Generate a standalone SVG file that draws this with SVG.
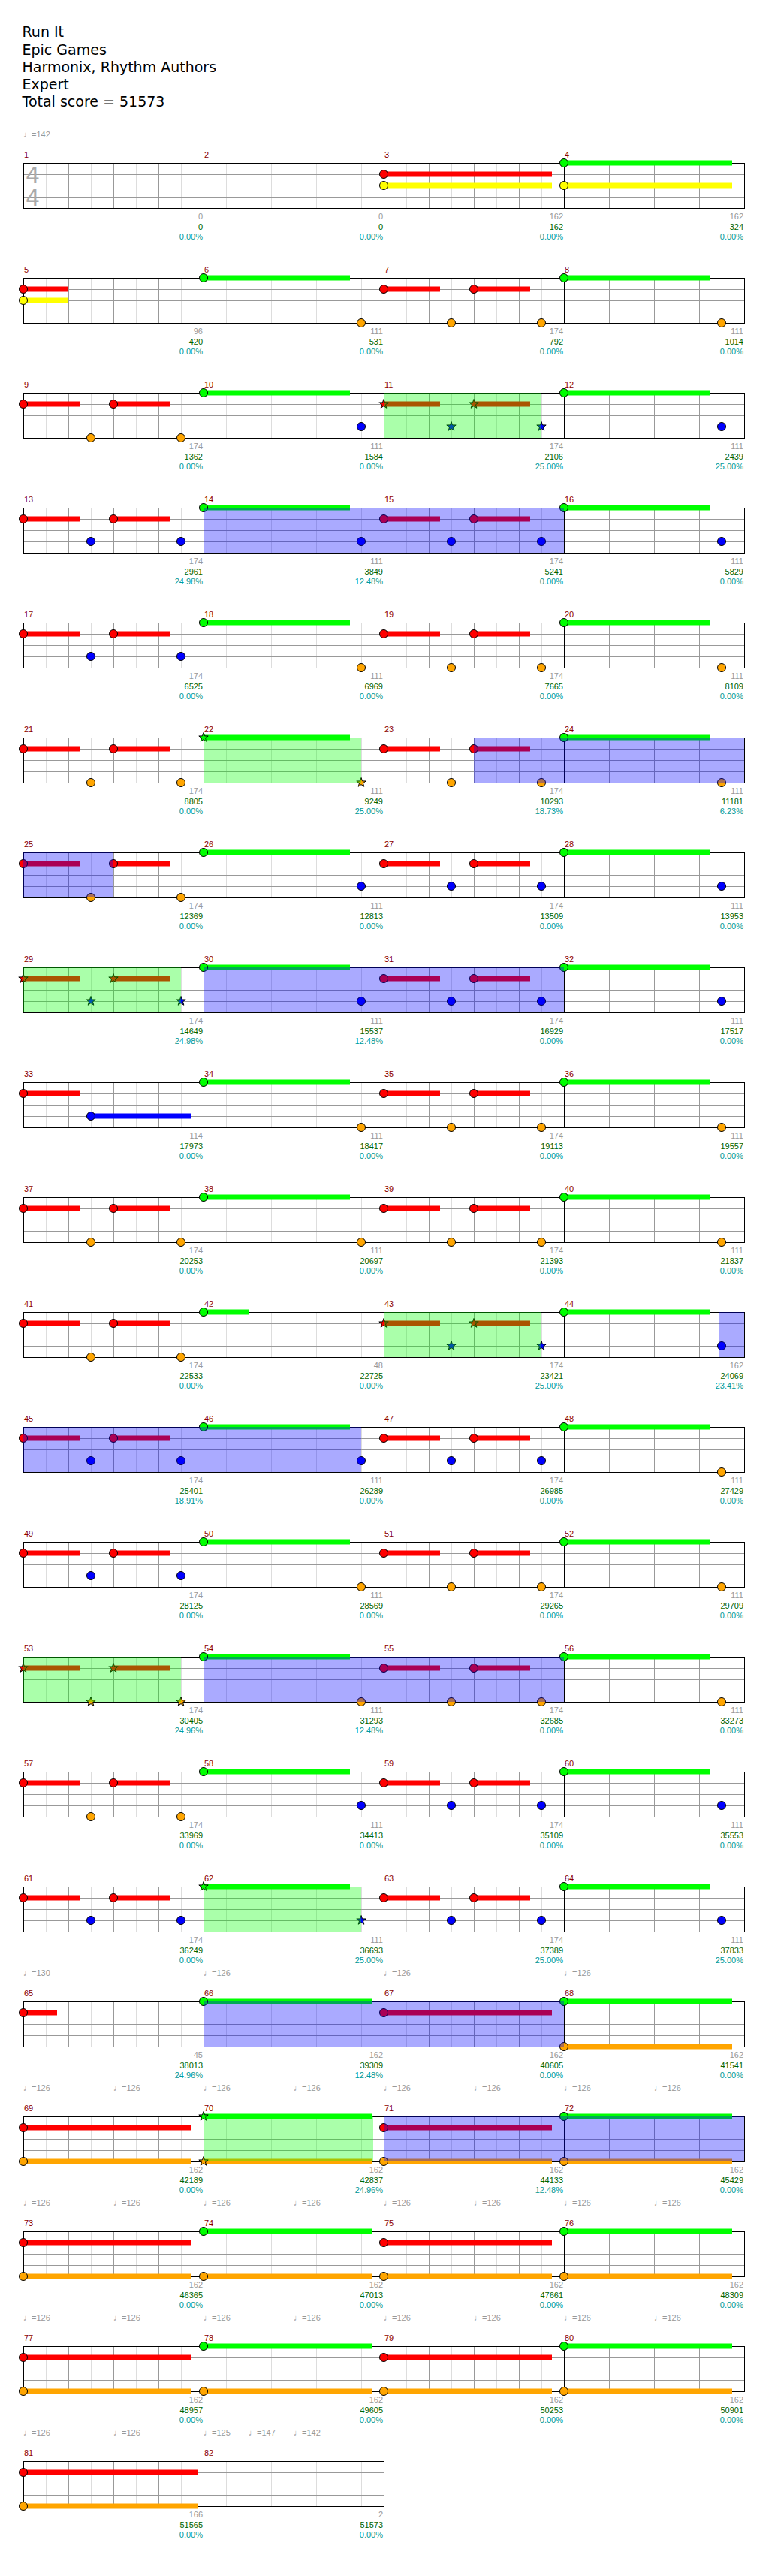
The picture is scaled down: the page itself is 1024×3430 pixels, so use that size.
<svg xmlns="http://www.w3.org/2000/svg" width="1024" height="3430" viewBox="0 0 1024 3430">
<defs>
<style>
.lt{stroke:#dddddd;stroke-width:1;fill:none}
.dk{stroke:#999999;stroke-width:1;fill:none}
.bk{stroke:#000000;stroke-width:1;fill:none}
text{font-family:"Liberation Sans",Arial,sans-serif}
.mn{font-size:11px;fill:#8b0000}
.s1{font-size:11px;fill:#999999;text-anchor:end}
.s2{font-size:11px;fill:#006400;text-anchor:end}
.s3{font-size:11px;fill:#009999;text-anchor:end}
.ttl{font-family:"DejaVu Sans",sans-serif;font-size:19px;fill:#000}
.tmp{font-size:11px;fill:#999999}
.ts{font-family:"DejaVu Sans",sans-serif;font-size:30px;fill:#aaaaaa}
.sp{fill:#00ff00;fill-opacity:0.333}
.act{fill:#0000ff;fill-opacity:0.333}
.bR{fill:#ff0000}.bG{fill:#00ff00}.bY{fill:#ffff00}.bB{fill:#0000ff}.bO{fill:#ffa500}
</style>
<g id="mg">
<path class="lt" d="M30 0V60M90 0V60M150 0V60M210 0V60"/>
<path class="dk" d="M60 0V60M120 0V60M180 0V60M0 15H240M0 30H240M0 45H240"/>
</g>
<g id="g4" shape-rendering="crispEdges">
<use href="#mg"/><use href="#mg" x="240"/><use href="#mg" x="480"/><use href="#mg" x="720"/>
<path class="bk" d="M240 0V60M480 0V60M720 0V60"/>
<rect class="bk" width="960" height="60"/>
</g>
<g id="g2" shape-rendering="crispEdges">
<use href="#mg"/><use href="#mg" x="240"/>
<path class="bk" d="M240 0V60"/>
<rect class="bk" width="480" height="60"/>
</g>
<circle id="cG" r="5.5" fill="#00ff00" stroke="#000"/>
<circle id="cR" r="5.5" fill="#ff0000" stroke="#000"/>
<circle id="cY" r="5.5" fill="#ffff00" stroke="#000"/>
<circle id="cB" r="5.5" fill="#0000ff" stroke="#000"/>
<circle id="cO" r="5.5" fill="#ffa500" stroke="#000"/>
<path id="st" d="M0-6.5L1.53-2.1L6.18-2.01L2.47 0.8L3.82 5.26L0 2.6L-3.82 5.26L-2.47 0.8L-6.18-2.01L-1.53-2.1Z" stroke="#000"/>
<g id="RO">
<rect class="bR" x="0" y="11.5" width="75" height="7"/><rect class="bR" x="120" y="11.5" width="75" height="7"/>
<use href="#cR" y="15"/><use href="#cR" x="120" y="15"/><use href="#cO" x="90" y="60"/><use href="#cO" x="210" y="60"/>
</g>
<g id="RB">
<rect class="bR" x="0" y="11.5" width="75" height="7"/><rect class="bR" x="120" y="11.5" width="75" height="7"/>
<use href="#cR" y="15"/><use href="#cR" x="120" y="15"/><use href="#cB" x="90" y="45"/><use href="#cB" x="210" y="45"/>
</g>
<g id="GO"><rect class="bG" y="-3.5" width="195" height="7"/><use href="#cG"/><use href="#cO" x="210" y="60"/></g>
<g id="GB"><rect class="bG" y="-3.5" width="195" height="7"/><use href="#cG"/><use href="#cB" x="210" y="45"/></g>
<g id="SRB">
<rect class="bR" x="0" y="11.5" width="75" height="7"/><rect class="bR" x="120" y="11.5" width="75" height="7"/>
<use href="#st" fill="#ff0000" y="15"/><use href="#st" fill="#ff0000" x="120" y="15"/><use href="#st" fill="#0000ff" x="90" y="45"/><use href="#st" fill="#0000ff" x="210" y="45"/>
</g>
<g id="SRO">
<rect class="bR" x="0" y="11.5" width="75" height="7"/><rect class="bR" x="120" y="11.5" width="75" height="7"/>
<use href="#st" fill="#ff0000" y="15"/><use href="#st" fill="#ff0000" x="120" y="15"/><use href="#st" fill="#ffa500" x="90" y="60"/><use href="#st" fill="#ffa500" x="210" y="60"/>
</g>
<g id="LRO"><rect class="bR" y="11.5" width="224" height="7"/><rect class="bO" y="56.5" width="224" height="7"/><use href="#cR" y="15"/><use href="#cO" y="60"/></g>
<g id="LGO"><rect class="bG" y="-3.5" width="224" height="7"/><rect class="bO" y="56.5" width="224" height="7"/><use href="#cG"/><use href="#cO" y="60"/></g>
<g id="t8">
<text class="tmp" x="0" y="-34">♩=126</text><text class="tmp" x="120" y="-34">♩=126</text><text class="tmp" x="240" y="-34">♩=126</text><text class="tmp" x="360" y="-34">♩=126</text>
<text class="tmp" x="480" y="-34">♩=126</text><text class="tmp" x="600" y="-34">♩=126</text><text class="tmp" x="720" y="-34">♩=126</text><text class="tmp" x="840" y="-34">♩=126</text>
</g>
</defs>
<rect width="1024" height="3430" fill="#ffffff"/>
<g id="header">
<text class="ttl" x="29.5" y="49">Run It</text>
<text class="ttl" x="29.5" y="72.5">Epic Games</text>
<text class="ttl" x="29.5" y="96">Harmonix, Rhythm Authors</text>
<text class="ttl" x="29.5" y="119">Expert</text>
<text class="ttl" x="29.5" y="142">Total score = 51573</text>
<text class="tmp" x="31" y="183">♩=142</text>
</g>

<g id="row1" transform="translate(31,217)">
<use href="#g4"/>
<g id="m1"><text class="ts" x="3" y="27">4</text><text class="ts" x="3" y="57">4</text><text class="mn" x="1" y="-7">1</text><text class="s1" x="239" y="75">0</text><text class="s2" x="239" y="88.5">0</text><text class="s3" x="239" y="102">0.00%</text></g>
<g id="m2" transform="translate(240,0)"><text class="mn" x="1" y="-7">2</text><text class="s1" x="239" y="75">0</text><text class="s2" x="239" y="88.5">0</text><text class="s3" x="239" y="102">0.00%</text></g>
<g id="m3" transform="translate(480,0)"><rect class="bR" y="11.5" width="224" height="7"/><rect class="bY" y="26.5" width="224" height="7"/><use href="#cR" y="15"/><use href="#cY" y="30"/><text class="mn" x="1" y="-7">3</text><text class="s1" x="239" y="75">162</text><text class="s2" x="239" y="88.5">162</text><text class="s3" x="239" y="102">0.00%</text></g>
<g id="m4" transform="translate(720,0)"><rect class="bG" y="-3.5" width="224" height="7"/><rect class="bY" y="26.5" width="224" height="7"/><use href="#cG"/><use href="#cY" y="30"/><text class="mn" x="1" y="-7">4</text><text class="s1" x="239" y="75">162</text><text class="s2" x="239" y="88.5">324</text><text class="s3" x="239" y="102">0.00%</text></g>
</g>

<g id="row2" transform="translate(31,370)">
<use href="#g4"/>
<g id="m5"><rect class="bR" y="11.5" width="60" height="7"/><rect class="bY" y="26.5" width="60" height="7"/><use href="#cR" y="15"/><use href="#cY" y="30"/><text class="mn" x="1" y="-7">5</text><text class="s1" x="239" y="75">96</text><text class="s2" x="239" y="88.5">420</text><text class="s3" x="239" y="102">0.00%</text></g>
<g id="m6" transform="translate(240,0)"><use href="#GO"/><text class="mn" x="1" y="-7">6</text><text class="s1" x="239" y="75">111</text><text class="s2" x="239" y="88.5">531</text><text class="s3" x="239" y="102">0.00%</text></g>
<g id="m7" transform="translate(480,0)"><use href="#RO"/><text class="mn" x="1" y="-7">7</text><text class="s1" x="239" y="75">174</text><text class="s2" x="239" y="88.5">792</text><text class="s3" x="239" y="102">0.00%</text></g>
<g id="m8" transform="translate(720,0)"><use href="#GO"/><text class="mn" x="1" y="-7">8</text><text class="s1" x="239" y="75">111</text><text class="s2" x="239" y="88.5">1014</text><text class="s3" x="239" y="102">0.00%</text></g>
</g>

<g id="row3" transform="translate(31,523)">
<use href="#g4"/>
<g id="m9"><use href="#RO"/><text class="mn" x="1" y="-7">9</text><text class="s1" x="239" y="75">174</text><text class="s2" x="239" y="88.5">1362</text><text class="s3" x="239" y="102">0.00%</text></g>
<g id="m10" transform="translate(240,0)"><use href="#GB"/><text class="mn" x="1" y="-7">10</text><text class="s1" x="239" y="75">111</text><text class="s2" x="239" y="88.5">1584</text><text class="s3" x="239" y="102">0.00%</text></g>
<g id="m11" transform="translate(480,0)"><use href="#SRB"/><text class="mn" x="1" y="-7">11</text><text class="s1" x="239" y="75">174</text><text class="s2" x="239" y="88.5">2106</text><text class="s3" x="239" y="102">25.00%</text></g>
<g id="m12" transform="translate(720,0)"><use href="#GB"/><text class="mn" x="1" y="-7">12</text><text class="s1" x="239" y="75">111</text><text class="s2" x="239" y="88.5">2439</text><text class="s3" x="239" y="102">25.00%</text></g>
<rect class="sp" x="480" width="210" height="60"/>
</g>

<g id="row4" transform="translate(31,676)">
<use href="#g4"/>
<g id="m13"><use href="#RB"/><text class="mn" x="1" y="-7">13</text><text class="s1" x="239" y="75">174</text><text class="s2" x="239" y="88.5">2961</text><text class="s3" x="239" y="102">24.98%</text></g>
<g id="m14" transform="translate(240,0)"><use href="#GB"/><text class="mn" x="1" y="-7">14</text><text class="s1" x="239" y="75">111</text><text class="s2" x="239" y="88.5">3849</text><text class="s3" x="239" y="102">12.48%</text></g>
<g id="m15" transform="translate(480,0)"><use href="#RB"/><text class="mn" x="1" y="-7">15</text><text class="s1" x="239" y="75">174</text><text class="s2" x="239" y="88.5">5241</text><text class="s3" x="239" y="102">0.00%</text></g>
<g id="m16" transform="translate(720,0)"><use href="#GB"/><text class="mn" x="1" y="-7">16</text><text class="s1" x="239" y="75">111</text><text class="s2" x="239" y="88.5">5829</text><text class="s3" x="239" y="102">0.00%</text></g>
<rect class="act" x="240" width="480" height="60"/>
</g>

<g id="row5" transform="translate(31,829)">
<use href="#g4"/>
<g id="m17"><use href="#RB"/><text class="mn" x="1" y="-7">17</text><text class="s1" x="239" y="75">174</text><text class="s2" x="239" y="88.5">6525</text><text class="s3" x="239" y="102">0.00%</text></g>
<g id="m18" transform="translate(240,0)"><use href="#GO"/><text class="mn" x="1" y="-7">18</text><text class="s1" x="239" y="75">111</text><text class="s2" x="239" y="88.5">6969</text><text class="s3" x="239" y="102">0.00%</text></g>
<g id="m19" transform="translate(480,0)"><use href="#RO"/><text class="mn" x="1" y="-7">19</text><text class="s1" x="239" y="75">174</text><text class="s2" x="239" y="88.5">7665</text><text class="s3" x="239" y="102">0.00%</text></g>
<g id="m20" transform="translate(720,0)"><use href="#GO"/><text class="mn" x="1" y="-7">20</text><text class="s1" x="239" y="75">111</text><text class="s2" x="239" y="88.5">8109</text><text class="s3" x="239" y="102">0.00%</text></g>
</g>

<g id="row6" transform="translate(31,982)">
<use href="#g4"/>
<g id="m21"><use href="#RO"/><text class="mn" x="1" y="-7">21</text><text class="s1" x="239" y="75">174</text><text class="s2" x="239" y="88.5">8805</text><text class="s3" x="239" y="102">0.00%</text></g>
<g id="m22" transform="translate(240,0)"><rect class="bG" y="-3.5" width="195" height="7"/><use href="#st" fill="#00ff00"/><use href="#st" fill="#ffa500" x="210" y="60"/><text class="mn" x="1" y="-7">22</text><text class="s1" x="239" y="75">111</text><text class="s2" x="239" y="88.5">9249</text><text class="s3" x="239" y="102">25.00%</text></g>
<g id="m23" transform="translate(480,0)"><use href="#RO"/><text class="mn" x="1" y="-7">23</text><text class="s1" x="239" y="75">174</text><text class="s2" x="239" y="88.5">10293</text><text class="s3" x="239" y="102">18.73%</text></g>
<g id="m24" transform="translate(720,0)"><use href="#GO"/><text class="mn" x="1" y="-7">24</text><text class="s1" x="239" y="75">111</text><text class="s2" x="239" y="88.5">11181</text><text class="s3" x="239" y="102">6.23%</text></g>
<rect class="sp" x="240" width="210" height="60"/>
<rect class="act" x="600" width="360" height="60"/>
</g>

<g id="row7" transform="translate(31,1135)">
<use href="#g4"/>
<g id="m25"><use href="#RO"/><text class="mn" x="1" y="-7">25</text><text class="s1" x="239" y="75">174</text><text class="s2" x="239" y="88.5">12369</text><text class="s3" x="239" y="102">0.00%</text></g>
<g id="m26" transform="translate(240,0)"><use href="#GB"/><text class="mn" x="1" y="-7">26</text><text class="s1" x="239" y="75">111</text><text class="s2" x="239" y="88.5">12813</text><text class="s3" x="239" y="102">0.00%</text></g>
<g id="m27" transform="translate(480,0)"><use href="#RB"/><text class="mn" x="1" y="-7">27</text><text class="s1" x="239" y="75">174</text><text class="s2" x="239" y="88.5">13509</text><text class="s3" x="239" y="102">0.00%</text></g>
<g id="m28" transform="translate(720,0)"><use href="#GB"/><text class="mn" x="1" y="-7">28</text><text class="s1" x="239" y="75">111</text><text class="s2" x="239" y="88.5">13953</text><text class="s3" x="239" y="102">0.00%</text></g>
<rect class="act" x="0" width="120" height="60"/>
</g>

<g id="row8" transform="translate(31,1288)">
<use href="#g4"/>
<g id="m29"><use href="#SRB"/><text class="mn" x="1" y="-7">29</text><text class="s1" x="239" y="75">174</text><text class="s2" x="239" y="88.5">14649</text><text class="s3" x="239" y="102">24.98%</text></g>
<g id="m30" transform="translate(240,0)"><use href="#GB"/><text class="mn" x="1" y="-7">30</text><text class="s1" x="239" y="75">111</text><text class="s2" x="239" y="88.5">15537</text><text class="s3" x="239" y="102">12.48%</text></g>
<g id="m31" transform="translate(480,0)"><use href="#RB"/><text class="mn" x="1" y="-7">31</text><text class="s1" x="239" y="75">174</text><text class="s2" x="239" y="88.5">16929</text><text class="s3" x="239" y="102">0.00%</text></g>
<g id="m32" transform="translate(720,0)"><use href="#GB"/><text class="mn" x="1" y="-7">32</text><text class="s1" x="239" y="75">111</text><text class="s2" x="239" y="88.5">17517</text><text class="s3" x="239" y="102">0.00%</text></g>
<rect class="sp" x="0" width="210" height="60"/>
<rect class="act" x="240" width="480" height="60"/>
</g>

<g id="row9" transform="translate(31,1441)">
<use href="#g4"/>
<g id="m33"><rect class="bR" y="11.5" width="75" height="7"/><rect class="bB" x="90" y="41.5" width="134" height="7"/><use href="#cR" y="15"/><use href="#cB" x="90" y="45"/><text class="mn" x="1" y="-7">33</text><text class="s1" x="239" y="75">114</text><text class="s2" x="239" y="88.5">17973</text><text class="s3" x="239" y="102">0.00%</text></g>
<g id="m34" transform="translate(240,0)"><use href="#GO"/><text class="mn" x="1" y="-7">34</text><text class="s1" x="239" y="75">111</text><text class="s2" x="239" y="88.5">18417</text><text class="s3" x="239" y="102">0.00%</text></g>
<g id="m35" transform="translate(480,0)"><use href="#RO"/><text class="mn" x="1" y="-7">35</text><text class="s1" x="239" y="75">174</text><text class="s2" x="239" y="88.5">19113</text><text class="s3" x="239" y="102">0.00%</text></g>
<g id="m36" transform="translate(720,0)"><use href="#GO"/><text class="mn" x="1" y="-7">36</text><text class="s1" x="239" y="75">111</text><text class="s2" x="239" y="88.5">19557</text><text class="s3" x="239" y="102">0.00%</text></g>
</g>

<g id="row10" transform="translate(31,1594)">
<use href="#g4"/>
<g id="m37"><use href="#RO"/><text class="mn" x="1" y="-7">37</text><text class="s1" x="239" y="75">174</text><text class="s2" x="239" y="88.5">20253</text><text class="s3" x="239" y="102">0.00%</text></g>
<g id="m38" transform="translate(240,0)"><use href="#GO"/><text class="mn" x="1" y="-7">38</text><text class="s1" x="239" y="75">111</text><text class="s2" x="239" y="88.5">20697</text><text class="s3" x="239" y="102">0.00%</text></g>
<g id="m39" transform="translate(480,0)"><use href="#RO"/><text class="mn" x="1" y="-7">39</text><text class="s1" x="239" y="75">174</text><text class="s2" x="239" y="88.5">21393</text><text class="s3" x="239" y="102">0.00%</text></g>
<g id="m40" transform="translate(720,0)"><use href="#GO"/><text class="mn" x="1" y="-7">40</text><text class="s1" x="239" y="75">111</text><text class="s2" x="239" y="88.5">21837</text><text class="s3" x="239" y="102">0.00%</text></g>
</g>

<g id="row11" transform="translate(31,1747)">
<use href="#g4"/>
<g id="m41"><use href="#RO"/><text class="mn" x="1" y="-7">41</text><text class="s1" x="239" y="75">174</text><text class="s2" x="239" y="88.5">22533</text><text class="s3" x="239" y="102">0.00%</text></g>
<g id="m42" transform="translate(240,0)"><rect class="bG" y="-3.5" width="60" height="7"/><use href="#cG"/><text class="mn" x="1" y="-7">42</text><text class="s1" x="239" y="75">48</text><text class="s2" x="239" y="88.5">22725</text><text class="s3" x="239" y="102">0.00%</text></g>
<g id="m43" transform="translate(480,0)"><use href="#SRB"/><text class="mn" x="1" y="-7">43</text><text class="s1" x="239" y="75">174</text><text class="s2" x="239" y="88.5">23421</text><text class="s3" x="239" y="102">25.00%</text></g>
<g id="m44" transform="translate(720,0)"><rect class="bG" y="-3.5" width="195" height="7"/><use href="#cG"/><use href="#cB" x="210" y="45"/><text class="mn" x="1" y="-7">44</text><text class="s1" x="239" y="75">162</text><text class="s2" x="239" y="88.5">24069</text><text class="s3" x="239" y="102">23.41%</text></g>
<rect class="sp" x="480" width="210" height="60"/>
<rect class="act" x="927" width="33" height="60"/>
</g>

<g id="row12" transform="translate(31,1900)">
<use href="#g4"/>
<g id="m45"><use href="#RB"/><text class="mn" x="1" y="-7">45</text><text class="s1" x="239" y="75">174</text><text class="s2" x="239" y="88.5">25401</text><text class="s3" x="239" y="102">18.91%</text></g>
<g id="m46" transform="translate(240,0)"><use href="#GB"/><text class="mn" x="1" y="-7">46</text><text class="s1" x="239" y="75">111</text><text class="s2" x="239" y="88.5">26289</text><text class="s3" x="239" y="102">0.00%</text></g>
<g id="m47" transform="translate(480,0)"><use href="#RB"/><text class="mn" x="1" y="-7">47</text><text class="s1" x="239" y="75">174</text><text class="s2" x="239" y="88.5">26985</text><text class="s3" x="239" y="102">0.00%</text></g>
<g id="m48" transform="translate(720,0)"><use href="#GO"/><text class="mn" x="1" y="-7">48</text><text class="s1" x="239" y="75">111</text><text class="s2" x="239" y="88.5">27429</text><text class="s3" x="239" y="102">0.00%</text></g>
<rect class="act" x="0" width="450" height="60"/>
</g>

<g id="row13" transform="translate(31,2053)">
<use href="#g4"/>
<g id="m49"><use href="#RB"/><text class="mn" x="1" y="-7">49</text><text class="s1" x="239" y="75">174</text><text class="s2" x="239" y="88.5">28125</text><text class="s3" x="239" y="102">0.00%</text></g>
<g id="m50" transform="translate(240,0)"><use href="#GO"/><text class="mn" x="1" y="-7">50</text><text class="s1" x="239" y="75">111</text><text class="s2" x="239" y="88.5">28569</text><text class="s3" x="239" y="102">0.00%</text></g>
<g id="m51" transform="translate(480,0)"><use href="#RO"/><text class="mn" x="1" y="-7">51</text><text class="s1" x="239" y="75">174</text><text class="s2" x="239" y="88.5">29265</text><text class="s3" x="239" y="102">0.00%</text></g>
<g id="m52" transform="translate(720,0)"><use href="#GO"/><text class="mn" x="1" y="-7">52</text><text class="s1" x="239" y="75">111</text><text class="s2" x="239" y="88.5">29709</text><text class="s3" x="239" y="102">0.00%</text></g>
</g>

<g id="row14" transform="translate(31,2206)">
<use href="#g4"/>
<g id="m53"><use href="#SRO"/><text class="mn" x="1" y="-7">53</text><text class="s1" x="239" y="75">174</text><text class="s2" x="239" y="88.5">30405</text><text class="s3" x="239" y="102">24.96%</text></g>
<g id="m54" transform="translate(240,0)"><use href="#GO"/><text class="mn" x="1" y="-7">54</text><text class="s1" x="239" y="75">111</text><text class="s2" x="239" y="88.5">31293</text><text class="s3" x="239" y="102">12.48%</text></g>
<g id="m55" transform="translate(480,0)"><use href="#RO"/><text class="mn" x="1" y="-7">55</text><text class="s1" x="239" y="75">174</text><text class="s2" x="239" y="88.5">32685</text><text class="s3" x="239" y="102">0.00%</text></g>
<g id="m56" transform="translate(720,0)"><use href="#GO"/><text class="mn" x="1" y="-7">56</text><text class="s1" x="239" y="75">111</text><text class="s2" x="239" y="88.5">33273</text><text class="s3" x="239" y="102">0.00%</text></g>
<rect class="sp" x="0" width="210" height="60"/>
<rect class="act" x="240" width="480" height="60"/>
</g>

<g id="row15" transform="translate(31,2359)">
<use href="#g4"/>
<g id="m57"><use href="#RO"/><text class="mn" x="1" y="-7">57</text><text class="s1" x="239" y="75">174</text><text class="s2" x="239" y="88.5">33969</text><text class="s3" x="239" y="102">0.00%</text></g>
<g id="m58" transform="translate(240,0)"><use href="#GB"/><text class="mn" x="1" y="-7">58</text><text class="s1" x="239" y="75">111</text><text class="s2" x="239" y="88.5">34413</text><text class="s3" x="239" y="102">0.00%</text></g>
<g id="m59" transform="translate(480,0)"><use href="#RB"/><text class="mn" x="1" y="-7">59</text><text class="s1" x="239" y="75">174</text><text class="s2" x="239" y="88.5">35109</text><text class="s3" x="239" y="102">0.00%</text></g>
<g id="m60" transform="translate(720,0)"><use href="#GB"/><text class="mn" x="1" y="-7">60</text><text class="s1" x="239" y="75">111</text><text class="s2" x="239" y="88.5">35553</text><text class="s3" x="239" y="102">0.00%</text></g>
</g>

<g id="row16" transform="translate(31,2512)">
<use href="#g4"/>
<g id="m61"><use href="#RB"/><text class="mn" x="1" y="-7">61</text><text class="s1" x="239" y="75">174</text><text class="s2" x="239" y="88.5">36249</text><text class="s3" x="239" y="102">0.00%</text></g>
<g id="m62" transform="translate(240,0)"><rect class="bG" y="-3.5" width="195" height="7"/><use href="#st" fill="#00ff00"/><use href="#st" fill="#0000ff" x="210" y="45"/><text class="mn" x="1" y="-7">62</text><text class="s1" x="239" y="75">111</text><text class="s2" x="239" y="88.5">36693</text><text class="s3" x="239" y="102">25.00%</text></g>
<g id="m63" transform="translate(480,0)"><use href="#RB"/><text class="mn" x="1" y="-7">63</text><text class="s1" x="239" y="75">174</text><text class="s2" x="239" y="88.5">37389</text><text class="s3" x="239" y="102">25.00%</text></g>
<g id="m64" transform="translate(720,0)"><use href="#GB"/><text class="mn" x="1" y="-7">64</text><text class="s1" x="239" y="75">111</text><text class="s2" x="239" y="88.5">37833</text><text class="s3" x="239" y="102">25.00%</text></g>
<rect class="sp" x="240" width="210" height="60"/>
</g>

<g id="row17" transform="translate(31,2665)">
<text class="tmp" x="0" y="-34">♩=130</text><text class="tmp" x="240" y="-34">♩=126</text><text class="tmp" x="480" y="-34">♩=126</text><text class="tmp" x="720" y="-34">♩=126</text>
<use href="#g4"/>
<g id="m65"><rect class="bR" y="11.5" width="45" height="7"/><use href="#cR" y="15"/><text class="mn" x="1" y="-7">65</text><text class="s1" x="239" y="75">45</text><text class="s2" x="239" y="88.5">38013</text><text class="s3" x="239" y="102">24.96%</text></g>
<g id="m66" transform="translate(240,0)"><rect class="bG" y="-3.5" width="224" height="7"/><use href="#cG"/><text class="mn" x="1" y="-7">66</text><text class="s1" x="239" y="75">162</text><text class="s2" x="239" y="88.5">39309</text><text class="s3" x="239" y="102">12.48%</text></g>
<g id="m67" transform="translate(480,0)"><rect class="bR" y="11.5" width="224" height="7"/><use href="#cR" y="15"/><text class="mn" x="1" y="-7">67</text><text class="s1" x="239" y="75">162</text><text class="s2" x="239" y="88.5">40605</text><text class="s3" x="239" y="102">0.00%</text></g>
<g id="m68" transform="translate(720,0)"><use href="#LGO"/><text class="mn" x="1" y="-7">68</text><text class="s1" x="239" y="75">162</text><text class="s2" x="239" y="88.5">41541</text><text class="s3" x="239" y="102">0.00%</text></g>
<rect class="act" x="240" width="480" height="60"/>
</g>

<g id="row18" transform="translate(31,2818)">
<use href="#t8"/>
<use href="#g4"/>
<g id="m69"><use href="#LRO"/><text class="mn" x="1" y="-7">69</text><text class="s1" x="239" y="75">162</text><text class="s2" x="239" y="88.5">42189</text><text class="s3" x="239" y="102">0.00%</text></g>
<g id="m70" transform="translate(240,0)"><rect class="bG" y="-3.5" width="224" height="7"/><rect class="bO" y="56.5" width="224" height="7"/><use href="#st" fill="#00ff00"/><use href="#st" fill="#ffa500" y="60"/><text class="mn" x="1" y="-7">70</text><text class="s1" x="239" y="75">162</text><text class="s2" x="239" y="88.5">42837</text><text class="s3" x="239" y="102">24.96%</text></g>
<g id="m71" transform="translate(480,0)"><use href="#LRO"/><text class="mn" x="1" y="-7">71</text><text class="s1" x="239" y="75">162</text><text class="s2" x="239" y="88.5">44133</text><text class="s3" x="239" y="102">12.48%</text></g>
<g id="m72" transform="translate(720,0)"><use href="#LGO"/><text class="mn" x="1" y="-7">72</text><text class="s1" x="239" y="75">162</text><text class="s2" x="239" y="88.5">45429</text><text class="s3" x="239" y="102">0.00%</text></g>
<rect class="sp" x="240" width="226" height="60"/>
<rect class="act" x="480" width="480" height="60"/>
</g>

<g id="row19" transform="translate(31,2971)">
<use href="#t8"/>
<use href="#g4"/>
<g id="m73"><use href="#LRO"/><text class="mn" x="1" y="-7">73</text><text class="s1" x="239" y="75">162</text><text class="s2" x="239" y="88.5">46365</text><text class="s3" x="239" y="102">0.00%</text></g>
<g id="m74" transform="translate(240,0)"><use href="#LGO"/><text class="mn" x="1" y="-7">74</text><text class="s1" x="239" y="75">162</text><text class="s2" x="239" y="88.5">47013</text><text class="s3" x="239" y="102">0.00%</text></g>
<g id="m75" transform="translate(480,0)"><use href="#LRO"/><text class="mn" x="1" y="-7">75</text><text class="s1" x="239" y="75">162</text><text class="s2" x="239" y="88.5">47661</text><text class="s3" x="239" y="102">0.00%</text></g>
<g id="m76" transform="translate(720,0)"><use href="#LGO"/><text class="mn" x="1" y="-7">76</text><text class="s1" x="239" y="75">162</text><text class="s2" x="239" y="88.5">48309</text><text class="s3" x="239" y="102">0.00%</text></g>
</g>

<g id="row20" transform="translate(31,3124)">
<use href="#t8"/>
<use href="#g4"/>
<g id="m77"><use href="#LRO"/><text class="mn" x="1" y="-7">77</text><text class="s1" x="239" y="75">162</text><text class="s2" x="239" y="88.5">48957</text><text class="s3" x="239" y="102">0.00%</text></g>
<g id="m78" transform="translate(240,0)"><use href="#LGO"/><text class="mn" x="1" y="-7">78</text><text class="s1" x="239" y="75">162</text><text class="s2" x="239" y="88.5">49605</text><text class="s3" x="239" y="102">0.00%</text></g>
<g id="m79" transform="translate(480,0)"><use href="#LRO"/><text class="mn" x="1" y="-7">79</text><text class="s1" x="239" y="75">162</text><text class="s2" x="239" y="88.5">50253</text><text class="s3" x="239" y="102">0.00%</text></g>
<g id="m80" transform="translate(720,0)"><use href="#LGO"/><text class="mn" x="1" y="-7">80</text><text class="s1" x="239" y="75">162</text><text class="s2" x="239" y="88.5">50901</text><text class="s3" x="239" y="102">0.00%</text></g>
</g>

<g id="row21" transform="translate(31,3277)">
<text class="tmp" x="0" y="-34">♩=126</text><text class="tmp" x="120" y="-34">♩=126</text><text class="tmp" x="240" y="-34">♩=125</text><text class="tmp" x="300" y="-34">♩=147</text><text class="tmp" x="360" y="-34">♩=142</text>
<use href="#g2"/>
<g id="m81"><rect class="bR" y="11.5" width="232" height="7"/><rect class="bO" y="56.5" width="232" height="7"/><use href="#cR" y="15"/><use href="#cO" y="60"/><text class="mn" x="1" y="-7">81</text><text class="s1" x="239" y="75">166</text><text class="s2" x="239" y="88.5">51565</text><text class="s3" x="239" y="102">0.00%</text></g>
<g id="m82" transform="translate(240,0)"><text class="mn" x="1" y="-7">82</text><text class="s1" x="239" y="75">2</text><text class="s2" x="239" y="88.5">51573</text><text class="s3" x="239" y="102">0.00%</text></g>
</g>
</svg>
